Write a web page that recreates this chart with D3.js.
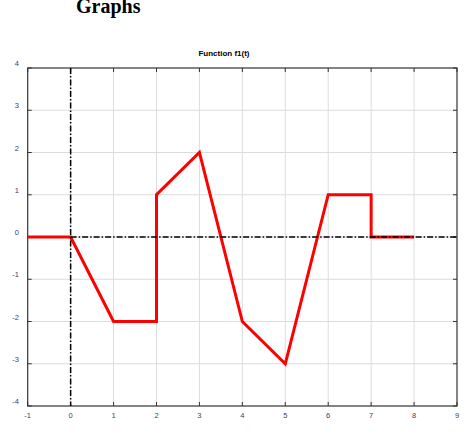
<!DOCTYPE html>
<meta charset="utf-8">
<style>
	body { margin: 0; background: #fff; }
	.grid line { stroke: #dcdcdc; stroke-width: 1; }
	.frame { fill: none; stroke: #333; stroke-width: 1.2; }
	.tick-label { font: 7.5px "Liberation Sans", Arial, sans-serif; fill: #3a4266; }
	.refline { stroke: #000; stroke-width: 1.5; stroke-dasharray: 6,2,1.5,2; fill: none; }
	.f1 { fill: none; stroke: #ff0000; stroke-width: 3; stroke-linejoin: miter; }
</style>
<body>
<script src="https://cdn.jsdelivr.net/npm/d3@7"></script>
<script>
var tValues = [-1, 0, 1, 2, 2, 3, 4, 5, 6, 7, 7, 8];
var fValues = [0, 0, -2, -2, 1, 2, -2, -3, 1, 1, 0, 0];
var xTicks = [-1, 0, 1, 2, 3, 4, 5, 6, 7, 8, 9];
var yTicks = [-4, -3, -2, -1, 0, 1, 2, 3, 4];

var width = 472, height = 441;
var plotL = 27.7, plotR = 457, plotT = 68, plotB = 406;

var x = d3.scaleLinear().domain([-1, 9]).range([plotL, plotR]);
var y = d3.scaleLinear().domain([-4, 4]).range([plotB, plotT]);

var svg = d3.select("body").append("svg")
    .attr("width", width)
    .attr("height", height);

svg.append("text")
    .attr("x", 76).attr("y", 13)
    .style("font", "bold 20px 'Liberation Serif', 'Times New Roman', serif")
    .text("Graphs");

svg.append("text")
    .attr("x", 224).attr("y", 56)
    .attr("text-anchor", "middle")
    .style("font", "bold 8px 'Liberation Sans', Arial, sans-serif")
    .text("Function f1(t)");

// grid
var grid = svg.append("g").attr("class", "grid");
grid.selectAll(".gx").data(xTicks.slice(1, -1)).enter().append("line")
    .attr("x1", d => x(d)).attr("x2", d => x(d))
    .attr("y1", plotT).attr("y2", plotB);
grid.selectAll(".gy").data(yTicks.slice(1, -1)).enter().append("line")
    .attr("y1", d => y(d)).attr("y2", d => y(d))
    .attr("x1", plotL).attr("x2", plotR);

// ticks on all four sides, pointing inward
var tk = svg.append("g").attr("stroke", "#333").attr("stroke-width", 1);
tk.selectAll(".tb").data(xTicks).enter().append("line")
    .attr("x1", d => x(d)).attr("x2", d => x(d))
    .attr("y1", plotB).attr("y2", plotB - 4);
tk.selectAll(".tt").data(xTicks).enter().append("line")
    .attr("x1", d => x(d)).attr("x2", d => x(d))
    .attr("y1", plotT).attr("y2", plotT + 4);
tk.selectAll(".tl").data(yTicks).enter().append("line")
    .attr("y1", d => y(d)).attr("y2", d => y(d))
    .attr("x1", plotL).attr("x2", plotL + 4);
tk.selectAll(".tr").data(yTicks).enter().append("line")
    .attr("y1", d => y(d)).attr("y2", d => y(d))
    .attr("x1", plotR).attr("x2", plotR - 4);

svg.append("rect").attr("class", "frame")
    .attr("x", plotL).attr("y", plotT)
    .attr("width", plotR - plotL).attr("height", plotB - plotT);

// tick labels
svg.selectAll(".xl").data(xTicks).enter().append("text")
    .attr("class", "tick-label")
    .attr("x", d => x(d)).attr("y", plotB + 12)
    .attr("text-anchor", "middle")
    .text(d => d);
svg.selectAll(".yl").data(yTicks).enter().append("text")
    .attr("class", "tick-label")
    .attr("x", 19).attr("y", d => y(d) - 2)
    .attr("text-anchor", "end")
    .text(d => d);

// function
var pts = tValues.map((t, i) => [t, fValues[i]]);
svg.append("path").datum(pts).attr("class", "f1")
    .attr("d", d3.line().x(d => x(d[0])).y(d => y(d[1])));

// reference axes
svg.append("line").attr("class", "refline")
    .attr("x1", x(0)).attr("x2", x(0)).attr("y1", plotT).attr("y2", plotB);
svg.append("line").attr("class", "refline")
    .attr("x1", x(0)).attr("x2", x(9)).attr("y1", y(0)).attr("y2", y(0));
</script>
